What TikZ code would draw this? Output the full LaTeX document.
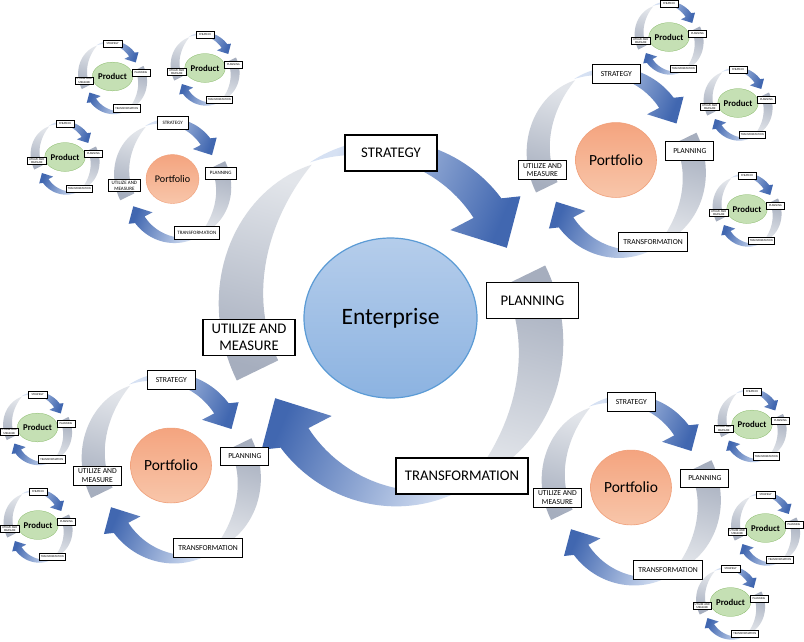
\documentclass[tikz,border=0pt]{standalone}
\usepackage{fontspec}
\setmainfont{Carlito}
\usetikzlibrary{shapes.geometric}
\definecolor{blueL}{HTML}{D6E1F3}
\definecolor{blueM}{HTML}{9AB4E0}
\definecolor{blueD}{HTML}{4167B0}
\definecolor{grayL}{HTML}{E2E5EA}
\definecolor{grayD}{HTML}{A6AEBE}
\definecolor{entTop}{HTML}{B5CDEB}
\definecolor{entBot}{HTML}{8CB3E1}
\definecolor{entLine}{HTML}{5B9BD5}
\definecolor{porTop}{HTML}{F4A47F}
\definecolor{porBot}{HTML}{F8C6AA}
\definecolor{porLine}{HTML}{F0A07A}
\definecolor{proFill}{HTML}{C5E0B4}
\definecolor{proLine}{HTML}{7BB259}
\tikzset{
  declare function={gw(\t)=1-(1-\t)*(1-\t)*(1-\t); bw(\t)=\t*(1.6-0.6*\t);},
  lblbox/.style={draw=black, fill=white, align=center, inner xsep=9pt, inner ysep=1pt,
    minimum width=92pt, minimum height=36pt, font=\fontsize{14.7}{17}\selectfont, transform shape},
  entcirc/.style={shade, top color=entTop, bottom color=entBot, draw=entLine},
  porcirc/.style={shade, top color=porTop, bottom color=porBot, draw=porLine},
  procirc/.style={fill=proFill, draw=proLine},
}
% gray tapered band: cx, cy, start angle (thin end), shading angle
\newcommand\gband[4]{%
  \shade[top color=grayL, bottom color=grayD, shading angle=#4]
  plot[variable=\t,domain=0:1,samples=40]
    ({#1+(163+23*gw(\t))*cos(#3+81.5*\t)},{#2+(163+23*gw(\t))*sin(#3+81.5*\t)})
  -- plot[variable=\t,domain=0:1,samples=40]
    ({#1+(163-23*gw(1-\t))*cos(#3+81.5-81.5*\t)},{#2+(163-23*gw(1-\t))*sin(#3+81.5-81.5*\t)})
  -- cycle;}
% blue curved arrow: cx, cy, tail angle, shading angle
\newcommand\barrow[4]{%
  \shade[top color=blueL, middle color=blueM, bottom color=blueD, shading angle=#4]
  plot[variable=\t,domain=0:1,samples=40]
    ({#1+(141+17*bw(\t))*cos(#3-81*\t)},{#2+(141+17*bw(\t))*sin(#3-81*\t)})
  -- ({#1+175*cos(#3-84)},{#2+175*sin(#3-84)})
  -- ({#1+141*cos(#3-99)},{#2+141*sin(#3-99)})
  -- ({#1+98*cos(#3-79)},{#2+98*sin(#3-79)})
  -- plot[variable=\t,domain=0:1,samples=40]
    ({#1+(141-17*bw(1-\t))*cos(#3-81+81*\t)},{#2+(141-17*bw(1-\t))*sin(#3-81+81*\t)})
  -- cycle;}
% one cycle unit: name, x, y, scale, circle factor, text, font, circle style
\newcommand\cycunit[8]{%
  \pgfmathsetmacro\blw{1.8*#4}%
  \pgfmathsetmacro\clw{1.2*#4}%
  \begin{scope}[shift={(#2,-#3)}, scale=#4]
    \gband{13.5}{19}{124.5}{-15}
    \gband{-12.5}{-29}{304.5}{165}
    \barrow{-18.5}{29}{116}{67}
    \barrow{19.5}{-39}{296}{247}
    \node[ellipse, #8, line width=\clw pt, minimum width={173*#5}, minimum height={160*#5},
      inner sep=0pt, transform shape, font={#7}] (#1-c) at (0,0) {#6};
    \node[lblbox, line width=\blw pt] (#1-s) at (0.5,165) {STRATEGY};
    \node[lblbox, line width=\blw pt] (#1-p) at (142,17.5) {PLANNING};
    \node[lblbox, line width=\blw pt] (#1-t) at (71.5,-158) {TRANSFORMATION};
    \node[lblbox, line width=\blw pt] (#1-u) at (-141.5,-19.5) {UTILIZE AND\\MEASURE};
  \end{scope}}
\begin{document}
\begin{tikzpicture}[x=1pt,y=1pt]
\useasboundingbox[fill=white] (0,0) rectangle (804,-641);
\cycunit{ent}{390.5}{318}{1}{1}{Enterprise}{\fontsize{23.5}{28}\selectfont}{entcirc}
\cycunit{ptr}{616}{160}{0.52}{0.9}{Portfolio}{\fontsize{29.8}{34}\selectfont}{porcirc}
\cycunit{ptl}{172.5}{179}{0.34}{0.9}{Portfolio}{\fontsize{29.8}{34}\selectfont}{porcirc}
\cycunit{pbl}{171}{465.5}{0.52}{0.9}{Portfolio}{\fontsize{29.8}{34}\selectfont}{porcirc}
\cycunit{pbr}{631}{487.5}{0.52}{0.9}{Portfolio}{\fontsize{29.8}{34}\selectfont}{porcirc}
\cycunit{pa}{112.5}{76.5}{0.2}{0.9}{Product}{\bfseries\fontsize{44}{50}\selectfont}{procirc}
\cycunit{pb}{205}{68}{0.2}{0.9}{Product}{\bfseries\fontsize{44}{50}\selectfont}{procirc}
\cycunit{pc}{65}{157}{0.2}{0.9}{Product}{\bfseries\fontsize{44}{50}\selectfont}{procirc}
\cycunit{pd}{669}{37}{0.2}{0.9}{Product}{\bfseries\fontsize{44}{50}\selectfont}{procirc}
\cycunit{pe}{738}{103}{0.2}{0.9}{Product}{\bfseries\fontsize{44}{50}\selectfont}{procirc}
\cycunit{pf}{747}{209}{0.2}{0.9}{Product}{\bfseries\fontsize{44}{50}\selectfont}{procirc}
\cycunit{pg}{37.5}{427.5}{0.2}{0.9}{Product}{\bfseries\fontsize{44}{50}\selectfont}{procirc}
\cycunit{ph}{38}{525}{0.2}{0.9}{Product}{\bfseries\fontsize{44}{50}\selectfont}{procirc}
\cycunit{pi}{752}{424.5}{0.2}{0.9}{Product}{\bfseries\fontsize{44}{50}\selectfont}{procirc}
\cycunit{pj}{765.5}{528}{0.2}{0.9}{Product}{\bfseries\fontsize{44}{50}\selectfont}{procirc}
\cycunit{pk}{730.5}{602}{0.2}{0.9}{Product}{\bfseries\fontsize{44}{50}\selectfont}{procirc}
\end{tikzpicture}
\end{document}
